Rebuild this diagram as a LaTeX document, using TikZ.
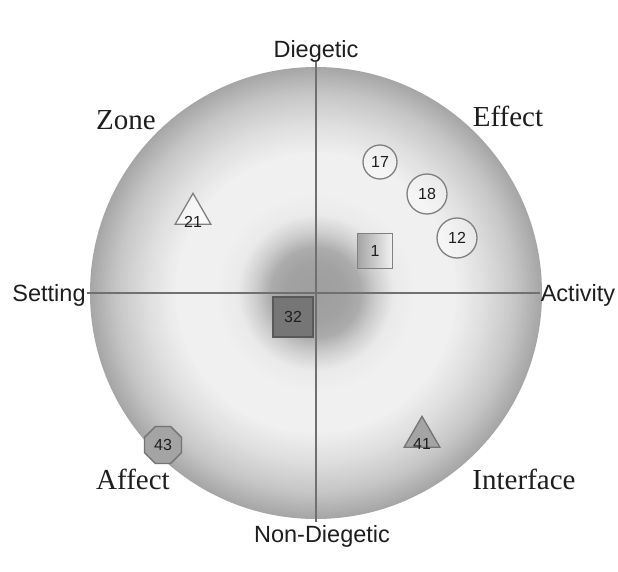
\documentclass[tikz,border=0pt]{standalone}
\usepackage{fontspec}
\setmainfont{Liberation Serif}
\newfontfamily\axfont{Liberation Sans}
\usetikzlibrary{shapes.geometric}
\definecolor{c1}{HTML}{A4A4A4}
\definecolor{c4}{HTML}{F2F2F2}
\definecolor{axis}{HTML}{707070}
\definecolor{mk}{HTML}{808080}
\definecolor{txt}{HTML}{1E1E1E}
\tikzset{
  quad/.style={font=\fontsize{29}{29}\selectfont, text=txt, anchor=base, inner sep=0pt},
  axlabel/.style={font=\axfont\fontsize{23.5}{23.5}\selectfont, text=txt, inner sep=1pt},
  axisline/.style={draw=axis, line width=1.6pt},
  num/.style={font=\axfont\fontsize{16}{16}\selectfont, text=txt},
  circmark/.style={circle, draw=mk, line width=1.3pt, fill=white, fill opacity=0.35, text opacity=1, inner sep=0pt},
  sqmark/.style={rectangle, draw=mk, line width=1.3pt, minimum size=35pt, inner sep=0pt},
  trimark/.style={isosceles triangle, isosceles triangle apex angle=60, shape border rotate=90, draw=mk, line width=1.3pt, inner sep=0pt, minimum height=31pt, minimum width=34pt},
}
\begin{document}
\begin{tikzpicture}[x=1pt,y=-1pt]
\useasboundingbox (0,0) rectangle (618,572);
\fill[white] (0,0) rectangle (618,572);
% disc: concentric rings, outer first
\coordinate (ctr) at (316,293);
\foreach \ra/\va/\rb/\vb in {200/198/226/166, 170/222/200/198, 140/240/170/222, 100/240/140/240,
  78/234/100/240, 60/205/78/234, 45/172/60/205, 30/162/45/172, 0/158/30/162}{
  \foreach \i in {0,...,20}{
    \pgfmathsetmacro\rr{\rb-(\rb-\ra)*\i/20}
    \pgfmathtruncatemacro\vv{round(\vb+(\va-\vb)*\i/20)}
    \fill[fill={rgb,255:red,\vv;green,\vv;blue,\vv}] (ctr) circle (\rr);
  }
}
% labels
\node[axlabel, anchor=base] (dieg) at (316,58) {Diegetic};
\node[axlabel, anchor=base] (ndieg) at (322,542) {Non-Diegetic};
\node[axlabel, anchor=base] (set) at (49,301) {Setting};
\node[axlabel, anchor=base] (act) at (578,301) {Activity};
\coordinate (vtop) at (316,62);
\coordinate (vbot) at (316,522);
\coordinate (hl) at (set.east |- 0,293);
\coordinate (hr) at (act.west |- 0,293);
\draw[axisline] (vtop) -- (vbot);
\draw[axisline] (hl) -- (hr);
\node[quad] (zone) at (126,130) {Zone};
\node[quad] (effect) at (508,127) {Effect};
\node[quad] (affect) at (133,489) {Affect};
\node[quad] (iface) at (524,489) {Interface};
% markers
\node[circmark, minimum size=34pt, num] (m17) at (380,162) {17};
\node[circmark, minimum size=40pt, num] (m18) at (427,194) {18};
\node[circmark, minimum size=40pt, num] (m12) at (457,238) {12};
\node[sqmark, left color=c1, right color=c4, num] (m1) at (375,251) {1};
\node[sqmark, minimum size=40pt, fill=mk!92!black, draw=black!65, num] (m32) at (293,317) {32};
\node[trimark, fill=white, fill opacity=0.6, text opacity=1] (m21) at (193,214) {};
\node[num, anchor=base] at (193,227) {21};
\node[trimark, fill=c1, draw=black!55] (m41) at (422,437) {};
\node[num, anchor=base] at (422,449) {41};
\node[regular polygon, regular polygon sides=8, minimum size=40pt, inner sep=0pt, fill=c1, draw=black!55, line width=1.3pt, num] (m43) at (163,445) {43};
\end{tikzpicture}
\end{document}
